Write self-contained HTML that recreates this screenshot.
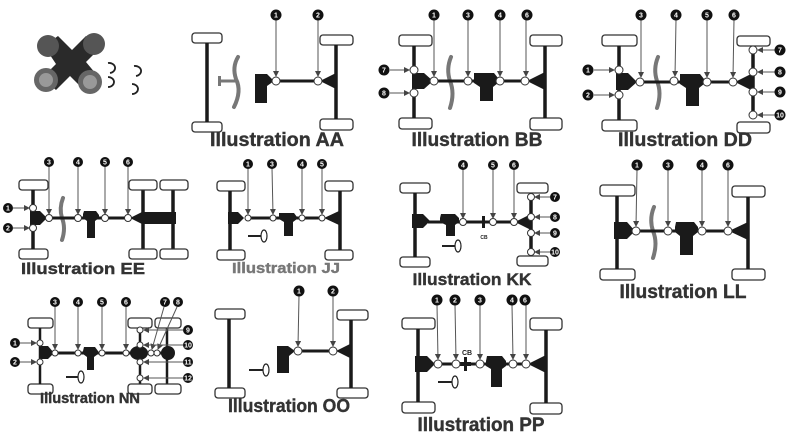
<!DOCTYPE html>
<html><head><meta charset="utf-8"><style>
html,body{margin:0;padding:0;background:#fff;width:800px;height:440px;overflow:hidden}
svg{display:block}
.t{fill:#fff;stroke:#333;stroke-width:1.3}
.ax{stroke:#1a1a1a;stroke-width:3.5;fill:none}
.sh{stroke:#1a1a1a;stroke-width:3;fill:none}
.k{fill:#1a1a1a}
.j{fill:#fff;stroke:#333;stroke-width:1}
.a{stroke:#555;stroke-width:1;marker-end:url(#ar)}
.g{stroke:#777;stroke-width:4;fill:none;stroke-linecap:round}
.b circle{fill:#111}
.b text{fill:#fff;font:bold 7px "Liberation Sans",sans-serif;text-anchor:middle}
.L{font-family:"Liberation Sans",sans-serif;font-weight:bold;fill:#333;text-anchor:middle;stroke:#333;stroke-width:0.4}
</style></head><body>
<svg width="800" height="440" viewBox="0 0 800 440" xmlns="http://www.w3.org/2000/svg">
<defs><marker id="ar" markerWidth="6" markerHeight="6" refX="5" refY="3" orient="auto" markerUnits="userSpaceOnUse"><path d="M0,0 L6,3 L0,6 z" fill="#444"/></marker></defs>

<!-- U-joint photo -->
<g>
<path d="M44,46 L58,36 L72,50 L86,36 L100,48 L86,62 L96,74 L82,88 L70,76 L56,90 L42,78 L56,64 Z" fill="#2a2a2a"/>
<circle cx="48" cy="46" r="11" fill="#555"/><circle cx="94" cy="44" r="11" fill="#555"/>
<circle cx="46" cy="80" r="12" fill="#666"/><circle cx="90" cy="82" r="12" fill="#666"/>
<circle cx="46" cy="80" r="7" fill="#999"/><circle cx="90" cy="82" r="7" fill="#999"/>
<path d="M108,63 a6,5 0 1 1 2,10 M108,77 a6,5 0 1 1 0,10 M134,66 a6,5 0 1 1 2,10 M132,84 a6,5 0 1 1 0,10" fill="none" stroke="#222" stroke-width="1.8"/>
</g>

<!-- AA -->
<rect class="t" x="192" y="33" width="30" height="10" rx="3"/><rect class="t" x="192" y="122" width="30" height="10" rx="3"/>
<line class="ax" x1="207" y1="43" x2="207" y2="122"/>
<path class="g" d="M238,57 q-6,10 -2,22 q6,12 -2,28"/><line x1="220" y1="81" x2="236" y2="81" stroke="#777" stroke-width="3"/><rect x="218" y="76" width="3" height="10" fill="#777"/>
<path class="k" d="M255,74 h12 l7,7 l-7,5 v17 h-12 z"/>
<line class="sh" x1="276" y1="81" x2="320" y2="81"/>
<path class="k" d="M320,81 l16,-8 v16 z"/>
<rect class="t" x="320" y="35" width="33" height="10" rx="3"/><rect class="t" x="320" y="119" width="33" height="11" rx="3"/>
<line class="ax" x1="336" y1="45" x2="336" y2="119"/>
<circle class="j" cx="276" cy="81" r="4"/><circle class="j" cx="318" cy="81" r="4"/>
<line class="a" x1="276" y1="20" x2="276" y2="76"/><line class="a" x1="318" y1="20" x2="318" y2="76"/>
<g class="b"><circle cx="276" cy="15" r="5.5"/><text x="276" y="17.5">1</text><circle cx="318" cy="15" r="5.5"/><text x="318" y="17.5">2</text></g>
<text class="L" x="277" y="146" font-size="19" textLength="134" lengthAdjust="spacingAndGlyphs">Illustration AA</text>

<!-- BB -->
<rect class="t" x="399" y="35" width="33" height="11" rx="3"/><rect class="t" x="399" y="118" width="33" height="11" rx="3"/>
<line class="ax" x1="414" y1="46" x2="414" y2="118"/>
<path class="k" d="M412,73 h12 l9,8 l-9,8 h-12 z"/>
<path class="g" d="M451,57 q-5,12 -1,24 q5,12 0,27"/>
<line class="sh" x1="434" y1="81" x2="527" y2="81"/>
<path class="k" d="M474,73 h20 l4,5 v5 l-5,4 v14 h-13 v-14 l-6,-4 v-5 z"/>
<path class="k" d="M527,81 l18,-9 v18 z"/>
<rect class="t" x="530" y="35" width="32" height="11" rx="3"/><rect class="t" x="530" y="118" width="32" height="12" rx="3"/>
<line class="ax" x1="545" y1="46" x2="545" y2="118"/>
<circle class="j" cx="414" cy="70" r="4"/><circle class="j" cx="414" cy="93" r="4"/>
<circle class="j" cx="434" cy="81" r="4"/><circle class="j" cx="468" cy="81" r="4"/><circle class="j" cx="500" cy="81" r="4"/><circle class="j" cx="525" cy="81" r="4"/>
<line class="a" x1="390" y1="70" x2="409" y2="70"/><line class="a" x1="390" y1="93" x2="409" y2="93"/>
<line class="a" x1="434" y1="20" x2="434" y2="76"/><line class="a" x1="468" y1="20" x2="468" y2="76"/><line class="a" x1="500" y1="20" x2="500" y2="76"/><line class="a" x1="526" y1="20" x2="526" y2="76"/>
<g class="b"><circle cx="384" cy="70" r="5.5"/><text x="384" y="72.5">7</text><circle cx="384" cy="93" r="5.5"/><text x="384" y="95.5">8</text>
<circle cx="434" cy="15" r="5.5"/><text x="434" y="17.5">1</text><circle cx="468" cy="15" r="5.5"/><text x="468" y="17.5">3</text><circle cx="500" cy="15" r="5.5"/><text x="500" y="17.5">4</text><circle cx="527" cy="15" r="5.5"/><text x="527" y="17.5">6</text></g>
<text class="L" x="477" y="146" font-size="19" textLength="131" lengthAdjust="spacingAndGlyphs">Illustration BB</text>

<!-- DD -->
<rect class="t" x="602" y="35" width="35" height="11" rx="3"/><rect class="t" x="602" y="120" width="35" height="11" rx="3"/>
<line class="ax" x1="619" y1="46" x2="619" y2="120"/>
<path class="k" d="M616,73 h12 l9,9 l-9,8 h-12 z"/>
<path class="g" d="M658,57 q-5,12 -1,24 q5,12 0,27"/>
<line class="sh" x1="640" y1="82" x2="735" y2="82"/>
<path class="k" d="M680,74 h20 l4,5 v5 l-5,4 v18 h-13 v-18 l-6,-4 v-5 z"/>
<path class="k" d="M735,82 l18,-9 v18 z"/>
<rect class="t" x="737" y="36" width="33" height="10" rx="3"/><rect class="t" x="737" y="122" width="33" height="11" rx="3"/>
<line class="ax" x1="753" y1="50" x2="753" y2="115"/>
<circle class="j" cx="619" cy="70" r="4"/><circle class="j" cx="619" cy="95" r="4"/>
<circle class="j" cx="640" cy="82" r="4"/><circle class="j" cx="674" cy="81" r="4"/><circle class="j" cx="707" cy="82" r="4"/><circle class="j" cx="733" cy="82" r="4"/>
<circle class="j" cx="753" cy="50" r="4"/><circle class="j" cx="753" cy="72" r="4"/><circle class="j" cx="753" cy="92" r="4"/><circle class="j" cx="753" cy="115" r="4"/>
<line class="a" x1="594" y1="70" x2="614" y2="70"/><line class="a" x1="594" y1="95" x2="614" y2="95"/>
<line class="a" x1="775" y1="50" x2="758" y2="50"/><line class="a" x1="775" y1="72" x2="758" y2="72"/><line class="a" x1="775" y1="92" x2="758" y2="92"/><line class="a" x1="775" y1="115" x2="758" y2="115"/>
<line class="a" x1="641" y1="20" x2="641" y2="77"/><line class="a" x1="676" y1="20" x2="675" y2="76"/><line class="a" x1="707" y1="20" x2="707" y2="77"/><line class="a" x1="734" y1="20" x2="733" y2="77"/>
<g class="b"><circle cx="588" cy="70" r="5.5"/><text x="588" y="72.5">1</text><circle cx="588" cy="95" r="5.5"/><text x="588" y="97.5">2</text>
<circle cx="641" cy="15" r="5.5"/><text x="641" y="17.5">3</text><circle cx="676" cy="15" r="5.5"/><text x="676" y="17.5">4</text><circle cx="707" cy="15" r="5.5"/><text x="707" y="17.5">5</text><circle cx="734" cy="15" r="5.5"/><text x="734" y="17.5">6</text>
<circle cx="780" cy="50" r="5.5"/><text x="780" y="52.5">7</text><circle cx="780" cy="72" r="5.5"/><text x="780" y="74.5">8</text><circle cx="780" cy="92" r="5.5"/><text x="780" y="94.5">9</text><circle cx="780" cy="115" r="5.5"/><text x="780" y="117.5" font-size="6">10</text></g>
<text class="L" x="685" y="146" font-size="19" textLength="134" lengthAdjust="spacingAndGlyphs">Illustration DD</text>

<!-- EE -->
<rect class="t" x="19" y="180" width="29" height="10" rx="3"/><rect class="t" x="19" y="249" width="29" height="10" rx="3"/>
<line class="ax" x1="33" y1="190" x2="33" y2="249"/>
<path class="k" d="M30,211 h10 l7,7 l-7,7 h-10 z"/>
<path class="g" d="M63,198 q-4,10 -1,20 q4,10 0,22"/>
<line class="sh" x1="49" y1="218" x2="130" y2="218"/>
<path class="k" d="M84,211 h12 l3,4 v3 l-4,3 v17 h-8 v-17 l-4,-3 v-4 z"/>
<path class="k" d="M130,218 l12,-6 h34 v12 h-34 z"/>
<line class="ax" x1="143" y1="190" x2="143" y2="249"/><line class="ax" x1="173" y1="190" x2="173" y2="249"/>
<rect class="t" x="129" y="180" width="28" height="10" rx="3"/><rect class="t" x="160" y="180" width="28" height="10" rx="3"/>
<rect class="t" x="129" y="249" width="28" height="10" rx="3"/><rect class="t" x="160" y="249" width="28" height="10" rx="3"/>
<circle class="j" cx="33" cy="208" r="3.5"/><circle class="j" cx="33" cy="228" r="3.5"/>
<circle class="j" cx="49" cy="218" r="3.5"/><circle class="j" cx="78" cy="218" r="3.5"/><circle class="j" cx="105" cy="218" r="3.5"/><circle class="j" cx="128" cy="218" r="3.5"/>
<line class="a" x1="13" y1="208" x2="29" y2="208"/><line class="a" x1="13" y1="228" x2="29" y2="228"/>
<line class="a" x1="49" y1="166" x2="49" y2="214"/><line class="a" x1="78" y1="166" x2="78" y2="214"/><line class="a" x1="105" y1="166" x2="105" y2="214"/><line class="a" x1="128" y1="166" x2="128" y2="214"/>
<g class="b"><circle cx="8" cy="208" r="5"/><text x="8" y="210.5">1</text><circle cx="8" cy="228" r="5"/><text x="8" y="230.5">2</text>
<circle cx="49" cy="162" r="5"/><text x="49" y="164.5">3</text><circle cx="78" cy="162" r="5"/><text x="78" y="164.5">4</text><circle cx="105" cy="162" r="5"/><text x="105" y="164.5">5</text><circle cx="128" cy="162" r="5"/><text x="128" y="164.5">6</text></g>
<text class="L" x="83" y="274" font-size="16" textLength="124" lengthAdjust="spacingAndGlyphs">Illustration EE</text>

<!-- JJ -->
<rect class="t" x="217" y="181" width="28" height="10" rx="3"/><rect class="t" x="217" y="250" width="28" height="10" rx="3"/>
<line class="ax" x1="230" y1="191" x2="230" y2="250"/>
<path class="k" d="M228,212 h10 l6,6 l-6,6 h-10 z"/>
<line class="sh" x1="248" y1="218" x2="325" y2="218"/>
<path class="k" d="M279,213 h15 l3,4 v2 l-4,3 v14 h-9 v-14 l-5,-3 v-2 z"/>
<path class="k" d="M324,218 l15,-7 v14 z"/>
<rect class="t" x="325" y="181" width="28" height="10" rx="3"/><rect class="t" x="325" y="250" width="28" height="10" rx="3"/>
<line class="ax" x1="340" y1="191" x2="340" y2="250"/>
<line x1="248" y1="236" x2="262" y2="236" stroke="#222" stroke-width="2"/><ellipse cx="264" cy="236" rx="3" ry="6" fill="#fff" stroke="#222" stroke-width="1.2"/>
<circle class="j" cx="248" cy="218" r="3"/><circle class="j" cx="273" cy="218" r="3"/><circle class="j" cx="302" cy="218" r="3"/><circle class="j" cx="322" cy="218" r="3"/>
<line class="a" x1="248" y1="168" x2="248" y2="214"/><line class="a" x1="272" y1="168" x2="273" y2="214"/><line class="a" x1="302" y1="168" x2="302" y2="214"/><line class="a" x1="322" y1="168" x2="322" y2="214"/>
<g class="b"><circle cx="248" cy="164" r="5" fill="#444"/><text x="248" y="166.5">1</text><circle cx="272" cy="164" r="5"/><text x="272" y="166.5">3</text><circle cx="302" cy="164" r="5"/><text x="302" y="166.5">4</text><circle cx="322" cy="164" r="5"/><text x="322" y="166.5">5</text></g>
<text class="L" x="286" y="273" font-size="15" textLength="108" lengthAdjust="spacingAndGlyphs" style="fill:#777;stroke:#777">Illustration JJ</text>

<!-- KK -->
<rect class="t" x="400" y="183" width="30" height="10" rx="3"/><rect class="t" x="400" y="257" width="30" height="10" rx="3"/>
<line class="ax" x1="415" y1="193" x2="415" y2="257"/>
<path class="k" d="M412,214 h11 l7,7 l-7,7 h-11 z"/>
<line class="sh" x1="428" y1="222" x2="516" y2="222"/>
<path class="k" d="M441,214 h14 l4,4 v4 l-4,3 v11 h-9 v-11 l-6,-3 v-4 z"/>
<rect class="k" x="482" y="216" width="3" height="12"/>
<text x="484" y="239" font-family="Liberation Sans,sans-serif" font-size="5" font-weight="bold" text-anchor="middle" fill="#222">CB</text>
<path class="k" d="M515,222 l16,-8 v16 z"/>
<rect class="t" x="517" y="183" width="31" height="10" rx="3"/><rect class="t" x="517" y="256" width="31" height="10" rx="3"/>
<line class="ax" x1="531" y1="197" x2="531" y2="252"/>
<line x1="442" y1="246" x2="456" y2="246" stroke="#222" stroke-width="2"/><ellipse cx="458" cy="246" rx="3" ry="6" fill="#fff" stroke="#222" stroke-width="1.2"/>
<circle class="j" cx="463" cy="222" r="3.5"/><circle class="j" cx="493" cy="222" r="3.5"/><circle class="j" cx="514" cy="222" r="3.5"/>
<circle class="j" cx="531" cy="197" r="3.5"/><circle class="j" cx="531" cy="217" r="3.5"/><circle class="j" cx="531" cy="233" r="3.5"/><circle class="j" cx="531" cy="252" r="3.5"/>
<line class="a" x1="463" y1="169" x2="463" y2="218"/><line class="a" x1="493" y1="169" x2="493" y2="218"/><line class="a" x1="514" y1="169" x2="514" y2="218"/>
<line class="a" x1="550" y1="197" x2="535" y2="197"/><line class="a" x1="550" y1="217" x2="535" y2="217"/><line class="a" x1="550" y1="233" x2="535" y2="233"/><line class="a" x1="550" y1="252" x2="535" y2="252"/>
<g class="b"><circle cx="463" cy="165" r="5"/><text x="463" y="167.5">4</text><circle cx="493" cy="165" r="5"/><text x="493" y="167.5">5</text><circle cx="514" cy="165" r="5"/><text x="514" y="167.5">6</text>
<circle cx="555" cy="197" r="5"/><text x="555" y="199.5">7</text><circle cx="555" cy="217" r="5"/><text x="555" y="219.5">8</text><circle cx="555" cy="233" r="5"/><text x="555" y="235.5">9</text><circle cx="555" cy="252" r="5"/><text x="555" y="254.5" font-size="6">10</text></g>
<text class="L" x="472" y="285" font-size="17" textLength="119" lengthAdjust="spacingAndGlyphs">Illustration KK</text>

<!-- LL -->
<rect class="t" x="600" y="185" width="35" height="11" rx="3"/><rect class="t" x="600" y="269" width="35" height="11" rx="3"/>
<line class="ax" x1="617" y1="196" x2="617" y2="269"/>
<path class="k" d="M614,222 h13 l8,9 l-8,8 h-13 z"/>
<path class="g" d="M654,207 q-5,12 -1,24 q5,12 0,27"/>
<line class="sh" x1="636" y1="231" x2="730" y2="231"/>
<path class="k" d="M676,222 h18 l4,5 v5 l-5,4 v19 h-13 v-19 l-5,-4 v-5 z"/>
<path class="k" d="M729,231 l19,-9 v18 z"/>
<rect class="t" x="732" y="186" width="33" height="11" rx="3"/><rect class="t" x="732" y="269" width="33" height="11" rx="3"/>
<line class="ax" x1="748" y1="197" x2="748" y2="269"/>
<circle class="j" cx="636" cy="231" r="4"/><circle class="j" cx="668" cy="231" r="4"/><circle class="j" cx="702" cy="231" r="4"/><circle class="j" cx="728" cy="231" r="4"/>
<line class="a" x1="637" y1="170" x2="636" y2="226"/><line class="a" x1="668" y1="170" x2="668" y2="226"/><line class="a" x1="702" y1="170" x2="702" y2="226"/><line class="a" x1="728" y1="170" x2="728" y2="226"/>
<g class="b"><circle cx="637" cy="165" r="5.5"/><text x="637" y="167.5">1</text><circle cx="668" cy="165" r="5.5"/><text x="668" y="167.5">3</text><circle cx="702" cy="165" r="5.5"/><text x="702" y="167.5">4</text><circle cx="728" cy="165" r="5.5"/><text x="728" y="167.5">6</text></g>
<text class="L" x="683" y="298" font-size="19" textLength="127" lengthAdjust="spacingAndGlyphs">Illustration LL</text>

<!-- NN -->
<rect class="t" x="28" y="318" width="25" height="10" rx="3"/><rect class="t" x="28" y="384" width="25" height="10" rx="3"/>
<line class="ax" x1="40" y1="328" x2="40" y2="384" style="stroke-width:2.5"/>
<path class="k" d="M39,346 h9 l6,7 l-6,6 h-9 z"/>
<line class="sh" x1="55" y1="353" x2="170" y2="353"/>
<path class="k" d="M84,347 h11 l3,4 v3 l-4,3 v13 h-7 v-13 l-4,-3 v-3 z"/>
<ellipse class="k" cx="139" cy="353" rx="9" ry="7"/><ellipse class="k" cx="168" cy="353" rx="7" ry="7"/>
<line class="ax" x1="140" y1="328" x2="140" y2="384" style="stroke-width:2.5"/><line class="ax" x1="167" y1="328" x2="167" y2="384" style="stroke-width:2.5"/>
<rect class="t" x="128" y="318" width="24" height="10" rx="3"/><rect class="t" x="155" y="318" width="26" height="10" rx="3"/>
<rect class="t" x="128" y="384" width="24" height="10" rx="3"/><rect class="t" x="155" y="384" width="26" height="10" rx="3"/>
<line x1="66" y1="377" x2="78" y2="377" stroke="#222" stroke-width="2"/><ellipse cx="81" cy="377" rx="3" ry="6" fill="#fff" stroke="#222" stroke-width="1.2"/>
<circle class="j" cx="40" cy="343" r="3"/><circle class="j" cx="40" cy="362" r="3"/>
<circle class="j" cx="55" cy="353" r="3"/><circle class="j" cx="78" cy="353" r="3"/><circle class="j" cx="102" cy="353" r="3"/><circle class="j" cx="126" cy="353" r="3"/><circle class="j" cx="151" cy="353" r="3"/><circle class="j" cx="157" cy="353" r="3"/>
<circle class="j" cx="140" cy="330" r="3"/><circle class="j" cx="140" cy="345" r="3"/><circle class="j" cx="140" cy="362" r="3"/><circle class="j" cx="140" cy="378" r="3"/>
<line class="a" x1="20" y1="343" x2="36" y2="343"/><line class="a" x1="20" y1="362" x2="36" y2="362"/>
<line class="a" x1="55" y1="307" x2="55" y2="349"/><line class="a" x1="78" y1="307" x2="78" y2="349"/><line class="a" x1="102" y1="307" x2="102" y2="349"/><line class="a" x1="126" y1="307" x2="126" y2="349"/>
<line class="a" x1="164" y1="307" x2="152" y2="349"/><line class="a" x1="177" y1="307" x2="158" y2="349"/>
<line class="a" x1="183" y1="330" x2="144" y2="330"/><line class="a" x1="183" y1="345" x2="144" y2="345"/><line class="a" x1="183" y1="362" x2="144" y2="362"/><line class="a" x1="183" y1="378" x2="144" y2="378"/>
<g class="b"><circle cx="15" cy="343" r="5"/><text x="15" y="345.5">1</text><circle cx="15" cy="362" r="5"/><text x="15" y="364.5">2</text>
<circle cx="55" cy="302" r="5"/><text x="55" y="304.5">3</text><circle cx="78" cy="302" r="5"/><text x="78" y="304.5">4</text><circle cx="102" cy="302" r="5"/><text x="102" y="304.5">5</text><circle cx="126" cy="302" r="5"/><text x="126" y="304.5">6</text><circle cx="165" cy="302" r="5"/><text x="165" y="304.5">7</text><circle cx="178" cy="302" r="5"/><text x="178" y="304.5">8</text>
<circle cx="188" cy="330" r="5"/><text x="188" y="332.5">9</text><circle cx="188" cy="345" r="5"/><text x="188" y="347.5" font-size="6">10</text><circle cx="188" cy="362" r="5"/><text x="188" y="364.5" font-size="6">11</text><circle cx="188" cy="378" r="5"/><text x="188" y="380.5" font-size="6">12</text></g>
<text class="L" x="90" y="403" font-size="15" textLength="100" lengthAdjust="spacingAndGlyphs">Illustration NN</text>

<!-- OO -->
<rect class="t" x="215" y="309" width="30" height="10" rx="3"/><rect class="t" x="215" y="388" width="30" height="10" rx="3"/>
<line class="ax" x1="229" y1="319" x2="229" y2="388"/>
<path class="k" d="M277,346 h11 l7,5 l-6,5 v17 h-12 z"/>
<line class="sh" x1="298" y1="351" x2="337" y2="351"/>
<path class="k" d="M336,351 l16,-8 v16 z"/>
<rect class="t" x="337" y="310" width="31" height="10" rx="3"/><rect class="t" x="337" y="388" width="31" height="10" rx="3"/>
<line class="ax" x1="351" y1="320" x2="351" y2="388"/>
<line x1="249" y1="370" x2="263" y2="370" stroke="#222" stroke-width="2"/><ellipse cx="266" cy="370" rx="3" ry="6" fill="#fff" stroke="#222" stroke-width="1.2"/>
<circle class="j" cx="298" cy="351" r="4"/><circle class="j" cx="333" cy="351" r="4"/>
<line class="a" x1="299" y1="296" x2="298" y2="346"/><line class="a" x1="333" y1="296" x2="333" y2="346"/>
<g class="b"><circle cx="299" cy="291" r="5.5"/><text x="299" y="293.5">1</text><circle cx="333" cy="291" r="5.5"/><text x="333" y="293.5">2</text></g>
<text class="L" x="289" y="412" font-size="18" textLength="122" lengthAdjust="spacingAndGlyphs">Illustration OO</text>

<!-- PP -->
<rect class="t" x="402" y="318" width="33" height="11" rx="3"/><rect class="t" x="402" y="402" width="33" height="11" rx="3"/>
<line class="ax" x1="418" y1="329" x2="418" y2="402"/>
<path class="k" d="M415,356 h12 l8,8 l-8,8 h-12 z"/>
<line class="sh" x1="438" y1="364" x2="530" y2="364"/>
<rect class="k" x="464" y="357" width="3" height="14"/><rect class="k" x="460" y="362" width="11" height="4"/>
<text x="467" y="355" font-family="Liberation Sans,sans-serif" font-size="7" font-weight="bold" text-anchor="middle" fill="#222">CB</text>
<path class="k" d="M487,356 h15 l4,5 v5 l-4,3 v18 h-11 v-18 l-5,-3 v-5 z"/>
<path class="k" d="M528,364 l18,-9 v18 z"/>
<rect class="t" x="530" y="318" width="32" height="12" rx="3"/><rect class="t" x="530" y="403" width="32" height="11" rx="3"/>
<line class="ax" x1="546" y1="330" x2="546" y2="403"/>
<line x1="438" y1="382" x2="452" y2="382" stroke="#222" stroke-width="2"/><ellipse cx="455" cy="382" rx="3" ry="6" fill="#fff" stroke="#222" stroke-width="1.2"/>
<circle class="j" cx="438" cy="364" r="4"/><circle class="j" cx="456" cy="364" r="4"/><circle class="j" cx="480" cy="364" r="4"/><circle class="j" cx="513" cy="364" r="4"/><circle class="j" cx="526" cy="364" r="4"/>
<line class="a" x1="437" y1="305" x2="438" y2="359"/><line class="a" x1="455" y1="305" x2="456" y2="359"/><line class="a" x1="480" y1="305" x2="480" y2="359"/><line class="a" x1="512" y1="305" x2="513" y2="359"/><line class="a" x1="526" y1="305" x2="526" y2="359"/>
<g class="b"><circle cx="437" cy="300" r="5.5"/><text x="437" y="302.5">1</text><circle cx="455" cy="300" r="5.5"/><text x="455" y="302.5">2</text><circle cx="480" cy="300" r="5.5"/><text x="480" y="302.5">3</text><circle cx="512" cy="300" r="5.5"/><text x="512" y="302.5">4</text><circle cx="525" cy="300" r="5.5"/><text x="525" y="302.5">6</text></g>
<text class="L" x="481" y="431" font-size="19" textLength="127" lengthAdjust="spacingAndGlyphs">Illustration PP</text>
</svg>
</body></html>
